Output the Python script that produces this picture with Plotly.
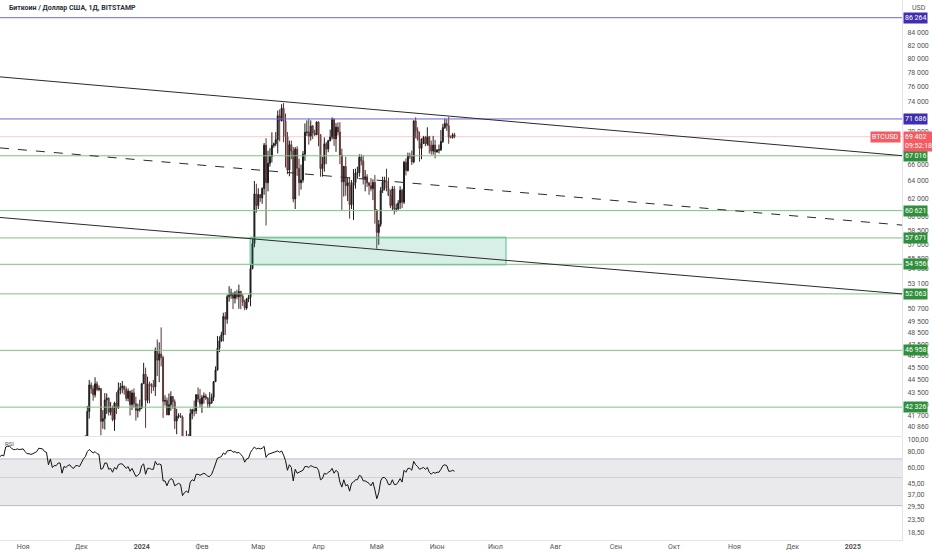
import math
import pandas as pd
import plotly.graph_objects as go

# ---------------- DATA ----------------
title_text = "Биткоин / Доллар США, 1Д, BITSTAMP"

candle_start = "2023-12-01"
candle_end = "2024-06-10"

opens = [
    # Dec 2023
    37720, 38690, 39460, 39970, 41990, 44080, 43770, 43290, 44170, 43720, 43790, 41240, 41450, 42890, 43020, 41930,
    42240, 41360, 42650, 42260, 43660, 43870, 43990, 43720, 43010, 43580, 42520, 43440, 42590, 42070, 42140,
    # Jan 2024
    42280, 44180, 44950, 42850, 44170, 44160, 43970, 43930, 46970, 46120, 46650, 46340, 42780, 42850, 41730, 42510,
    43150, 42740, 41260, 41620, 41670, 41570, 39530, 39880, 40080, 39950, 41820, 42120, 42030, 43300, 42950,
    # Feb 2024
    42580, 43080, 43200, 43010, 42580, 42660, 43090, 44340, 45300, 47140, 47770, 48290, 49960, 49700, 51800, 51940,
    52140, 51650, 52130, 51780, 52280, 51840, 51300, 50730, 51570, 51730, 54520, 57080, 62500,
    # Mar 2024
    61200, 62430, 62050, 63130, 68330, 63800, 66100, 66930, 68300, 68500, 69020, 72100, 71480, 73100, 71400, 69400,
    65300, 68390, 67600, 61930, 67840, 65500, 63800, 64100, 67200, 69960, 69990, 69450, 70760, 69880, 69640,
    # Apr 2024
    71300, 69650, 65460, 65990, 68500, 67840, 68900, 69350, 71640, 69150, 70620, 70000, 67100, 63900, 65720, 63440,
    63800, 61270, 63480, 63820, 64940, 64970, 66840, 66400, 64280, 64490, 63770, 63460, 63110, 63830,
    # May 2024
    60630, 58250, 59120, 62900, 63880, 64010, 63160, 62330, 61180, 63070, 60790, 60820, 61480, 62920, 61570, 66230,
    65240, 67050, 66940, 66270, 71430, 70140, 69120, 67930, 68520, 69290, 68510, 69390, 68300, 67590, 68350,
    # Jun 2024
    67490, 67710, 67760, 68800, 70560, 71080, 70790, 69350, 69300, 69650,
]
highs = [
    38970, 39700, 40200, 42420, 44490, 44300, 44050, 44700, 44370, 44040, 43800, 42100, 43430, 43400, 43090, 42720,
    42430, 42750, 43500, 44280, 44240, 44400, 44020, 43940, 43800, 43600, 43690, 43800, 43140, 42600, 42900,
    44200, 45900, 45500, 44750, 44350, 44200, 44480, 47200, 47900, 47650, 48970, 46500, 43250, 43080, 43400, 43570,
    43200, 42930, 42200, 41850, 41870, 41680, 40140, 40540, 40300, 42200, 42200, 42840, 43320, 43880, 43750,
    43270, 43480, 43380, 43120, 43500, 43380, 44400, 45600, 48200, 48170, 48580, 50300, 50370, 52000, 52800, 52560,
    52180, 52340, 52460, 52950, 52370, 52050, 51520, 51680, 51960, 54900, 57580, 64000, 63680,
    63150, 62450, 63250, 68600, 69200, 67650, 67970, 69950, 68650, 69980, 72800, 72950, 73650, 73800, 72400, 70000,
    68900, 68900, 68100, 68100, 68200, 66650, 65950, 67600, 71100, 71500, 71700, 71500, 70900, 70300, 71350,
    71350, 69700, 66900, 69300, 68720, 69000, 70300, 71900, 71740, 71150, 71250, 71250, 67900, 65800, 66900, 64350,
    64450, 64100, 65400, 65450, 65700, 67200, 67200, 67080, 65300, 64800, 63900, 64350, 64200, 64700,
    60800, 59600, 63300, 64500, 64500, 65450, 64400, 62990, 63400, 63420, 61400, 61800, 63400, 63100, 66400, 66700,
    67400, 67400, 67650, 71500, 71900, 70600, 70050, 69200, 69500, 69500, 70600, 69500, 68900, 69500, 69000,
    67850, 68400, 70250, 71050, 71750, 71650, 71950, 69550, 69850, 69900,
]
lows = [
    37620, 38650, 39290, 39970, 41450, 43380, 42820, 43080, 43580, 43580, 40200, 40680, 40630, 41800, 41680, 41690,
    41250, 40530, 41800, 42200, 43330, 43420, 43300, 42800, 42760, 41680, 42100, 42300, 41300, 41530, 41980,
    42180, 44160, 40750, 42630, 42620, 43400, 43600, 43200, 44800, 44300, 45600, 41500, 42450, 41720, 41710, 42050,
    42200, 40670, 40280, 41450, 41500, 39450, 38500, 39500, 39300, 39820, 41400, 41620, 41800, 42700, 42300,
    41880, 42600, 42890, 42250, 42270, 42580, 42800, 44330, 45250, 46800, 47700, 47730, 48300, 49300, 51330, 51600,
    50630, 51160, 51550, 50660, 50620, 50920, 50530, 50580, 51280, 50900, 54450, 56700, 60400,
    60800, 61600, 61380, 62400, 59000, 62800, 65700, 66200, 68000, 68200, 67300, 68800, 71350, 68700, 65600, 64800,
    64550, 66600, 61550, 60800, 64600, 62300, 63000, 63800, 66400, 69500, 68400, 68900, 69100, 69500, 69600,
    68200, 64500, 64500, 65100, 66000, 67450, 68800, 69050, 68250, 67500, 69550, 66000, 60700, 62200, 62300, 61700,
    59750, 60800, 59600, 63100, 64250, 64500, 65850, 63600, 62800, 63300, 62400, 62800, 61800, 59200,
    56550, 56950, 58850, 62600, 62900, 62800, 62300, 60900, 60650, 60200, 60500, 60650, 60800, 60900, 61350, 64650,
    65100, 66650, 65900, 66100, 69200, 68900, 66300, 66600, 68500, 68200, 68250, 67300, 67150, 67150, 66700,
    67400, 67300, 67600, 68600, 70400, 70150, 68500, 69200, 69150, 69200,
]
closes = [
    38690, 39460, 39970, 41990, 44080, 43770, 43290, 44170, 43720, 43790, 41240, 41450, 42890, 43020, 41930, 42240,
    41360, 42650, 42260, 43660, 43870, 43990, 43720, 43010, 43580, 42520, 43440, 42590, 42070, 42140, 42280,
    44180, 44950, 42850, 44170, 44160, 43970, 43930, 46970, 46120, 46650, 46340, 42780, 42850, 41730, 42510, 43150,
    42740, 41260, 41620, 41670, 41570, 39530, 39880, 40080, 39950, 41820, 42120, 42030, 43300, 42950, 42580,
    43080, 43200, 43010, 42580, 42660, 43090, 44340, 45300, 47140, 47770, 48290, 49960, 49700, 51800, 51940, 52140,
    51650, 52130, 51780, 52280, 51840, 51300, 50730, 51570, 51730, 54520, 57080, 62500, 61200,
    62430, 62050, 63130, 68330, 63800, 66100, 66930, 68300, 68500, 69020, 72100, 71480, 73100, 71400, 69400, 65300,
    68390, 67600, 61930, 67840, 65500, 63800, 64100, 67200, 69960, 69990, 69450, 70760, 69880, 69640, 71300,
    69650, 65460, 65990, 68500, 67840, 68900, 69350, 71640, 69150, 70620, 70000, 67100, 63900, 65720, 63440, 63800,
    61270, 63480, 63820, 64940, 64970, 66840, 66400, 64280, 64490, 63770, 63460, 63110, 63830, 60630,
    58250, 59120, 62900, 63880, 64010, 63160, 62330, 61180, 63070, 60790, 60820, 61480, 62920, 61570, 66230, 65240,
    67050, 66940, 66270, 71430, 70140, 69120, 67930, 68520, 69290, 68510, 69390, 68300, 67590, 68350, 67490,
    67710, 67760, 68800, 70560, 71080, 70790, 69350, 69300, 69650, 69402,
]

rsi_start = "2023-10-20"
rsi_values = [
    # Oct 20-31
    73, 75, 74, 87, 88, 88, 85, 83, 83, 84, 83, 83,
    # Nov
    84, 80, 77, 77, 76, 77, 79, 80, 85, 85, 84, 80, 79, 63, 70, 60, 62, 62, 65, 65, 54, 61, 60, 62, 63, 60, 59, 62, 62, 61,
    # Dec
    66, 70, 73, 80, 83, 81, 78, 80, 77, 76, 58, 59, 65, 65, 58, 59, 55, 60, 58, 63, 64, 64, 62, 59, 61, 56, 59, 55, 51, 52, 54,
    # Jan
    62, 64, 53, 59, 59, 58, 58, 67, 63, 64, 63, 47, 47, 43, 47, 49, 48, 43, 44, 45, 44, 36, 38, 39, 38, 46, 48, 47, 53, 53, 52,
    # Feb
    53, 54, 53, 51, 51, 53, 58, 65, 71, 72, 73, 78, 76, 81, 81, 82, 79, 80, 78, 79, 76, 73, 66, 70, 71, 79, 83, 87, 84,
    # Mar
    85, 84, 85, 88, 72, 76, 77, 78, 78, 79, 81, 79, 81, 75, 68, 57, 63, 60, 47, 58, 54, 55, 56, 57, 61, 61, 60, 62, 61, 60, 60,
    # Apr
    57, 48, 49, 54, 53, 55, 56, 59, 54, 57, 55, 46, 42, 48, 43, 44, 39, 45, 46, 48, 48, 52, 51, 47, 47, 46, 45, 43, 46, 40,
    # May
    34, 38, 47, 50, 50, 48, 44, 44, 48, 44, 44, 46, 49, 46, 57, 55, 59, 59, 57, 67, 63, 61, 58, 59, 60, 58, 60, 55, 53, 55, 54,
    # Jun 1-10
    55, 55, 58, 62, 63, 62, 56, 56, 57, 56,
]
rsi_band = [30, 70]
rsi_mid = 50

# horizontal levels drawn on the chart
purple_levels = [86264, 71686]
green_levels = [67016, 60621, 57671, 54956, 52063, 46958, 42326]
last_price = 69402
countdown = "09:52:18"

# trendlines (start price at left edge, end price at right edge)
trend_top = [77420, 67030]
trend_mid = [67990, 59040]
trend_low = [59870, 52063]

# demand zone
zone_dates = ["2024-02-25 19:00", "2024-07-06 12:00"]
zone_prices = [54900, 57750]

# visible window
x_range = ["2023-10-20 01:40", "2025-01-26 07:00"]
price_range = [40150, 89100]
rsi_range = [16.08, 104.26]

price_ticks = [84000, 82000, 80000, 78000, 76000, 74000, 70000, 68000, 66000, 64000, 62000, 60000, 58500,
               57000, 55500, 54500, 53100, 50700, 49500, 48500, 47500, 46500, 45500, 44500, 43500, 42500,
               41700, 40860]
rsi_ticks = [100, 80, 60, 45, 37, 29.5, 23.5, 18.5]

month_ticks = ["2023-11-01", "2023-12-01", "2024-01-01", "2024-02-01", "2024-03-01", "2024-04-01", "2024-05-01",
               "2024-06-01", "2024-07-01", "2024-08-01", "2024-09-01", "2024-10-01", "2024-11-01", "2024-12-01",
               "2025-01-01"]
month_labels = ["Ноя", "Дек", "<b>2024</b>", "Фев", "Мар", "Апр", "Май", "Июн", "Июл", "Авг", "Сен", "Окт",
                "Ноя", "Дек", "<b>2025</b>"]

# ---------------- STYLE ----------------
FONT = "Roboto"
PURPLE_LINE = "#6f63d9"
PURPLE_BOX = "#3f2fb0"
GREEN_LINE = "#7cc47f"
GREEN_BOX = "#2f8f3c"
RED_BOX = "#f25c62"
AXIS_COL = "#e3e5ea"


def fmt(v):
    return f"{v:,.0f}".replace(",", " ")


def fmt_rsi(v):
    return f"{v:.2f}".replace(".", ",")


candle_dates = pd.date_range(candle_start, candle_end, freq="D")
assert len(candle_dates) == len(opens) == len(highs) == len(lows) == len(closes)
rsi_dates = pd.date_range(rsi_start, periods=len(rsi_values), freq="D")
assert rsi_dates[-1] == pd.Timestamp(candle_end)

fig = go.Figure()

# demand zone
fig.add_trace(go.Scatter(
    x=[zone_dates[0], zone_dates[1], zone_dates[1], zone_dates[0], zone_dates[0]],
    y=[zone_prices[0], zone_prices[0], zone_prices[1], zone_prices[1], zone_prices[0]],
    fill="toself", fillcolor="rgba(38,166,130,0.18)", line=dict(color="rgba(38,166,130,0.75)", width=1),
    mode="lines", hoverinfo="skip", xaxis="x", yaxis="y"))

# horizontal levels
for v in purple_levels:
    fig.add_trace(go.Scatter(x=x_range, y=[v, v], mode="lines", line=dict(color=PURPLE_LINE, width=1),
                             hoverinfo="skip", xaxis="x", yaxis="y"))
for v in green_levels:
    fig.add_trace(go.Scatter(x=x_range, y=[v, v], mode="lines", line=dict(color=GREEN_LINE, width=1),
                             hoverinfo="skip", xaxis="x", yaxis="y"))
fig.add_trace(go.Scatter(x=x_range, y=[last_price, last_price], mode="lines",
                         line=dict(color="rgba(242,54,69,0.25)", width=1), hoverinfo="skip",
                         xaxis="x", yaxis="y"))

# trendlines
fig.add_trace(go.Scatter(x=x_range, y=trend_top, mode="lines", line=dict(color="#2a2a2a", width=1),
                         hoverinfo="skip", xaxis="x", yaxis="y"))
fig.add_trace(go.Scatter(x=x_range, y=trend_mid, mode="lines", line=dict(color="#2a2a2a", width=1, dash="dash"),
                         hoverinfo="skip", xaxis="x", yaxis="y"))
fig.add_trace(go.Scatter(x=x_range, y=trend_low, mode="lines", line=dict(color="#2a2a2a", width=1),
                         hoverinfo="skip", xaxis="x", yaxis="y"))

# candles
fig.add_trace(go.Candlestick(
    x=candle_dates, open=opens, high=highs, low=lows, close=closes,
    increasing=dict(line=dict(color="#1c1c1c", width=1), fillcolor="#1c1c1c"),
    decreasing=dict(line=dict(color="#5a3434", width=1), fillcolor="#c8706e"),
    whiskerwidth=0, xaxis="x", yaxis="y", hoverinfo="skip"))

# RSI band and lines
fig.add_trace(go.Scatter(
    x=[x_range[0], x_range[1], x_range[1], x_range[0], x_range[0]],
    y=[rsi_band[0], rsi_band[0], rsi_band[1], rsi_band[1], rsi_band[0]],
    fill="toself", fillcolor="rgba(200,201,208,0.38)", line=dict(width=0), mode="lines",
    hoverinfo="skip", xaxis="x", yaxis="y2"))
for v, c in [(rsi_band[1], "#b9bbc2"), (rsi_mid, "#cfd1d6"), (rsi_band[0], "#b9bbc2")]:
    fig.add_trace(go.Scatter(x=x_range, y=[v, v], mode="lines", line=dict(color=c, width=1),
                             hoverinfo="skip", xaxis="x", yaxis="y2"))
fig.add_trace(go.Scatter(x=rsi_dates, y=rsi_values, mode="lines", line=dict(color="#111111", width=1),
                         hoverinfo="skip", xaxis="x", yaxis="y2"))

# ---------------- LAYOUT ----------------
W, H = 932, 550
ML, MR, MT, MB = 0, 30, 0, 10
plot_h = H - MT - MB
price_bottom_px = 436
rsi_top_px = 437
price_domain = [1 - price_bottom_px / plot_h, 1]
rsi_domain = [0, 1 - rsi_top_px / plot_h]

annotations = []


def level_label(v, bg, yref="y"):
    annotations.append(dict(
        xref="paper", x=1, xanchor="left", xshift=1, yref=yref, y=math.log10(v), yanchor="middle",
        text=fmt(v), showarrow=False, bgcolor=bg, borderpad=1,
        font=dict(family=FONT, size=7, color="white")))


for v in purple_levels:
    level_label(v, PURPLE_BOX)
for v in green_levels:
    level_label(v, GREEN_BOX)

# current price labels
annotations.append(dict(xref="paper", x=1, xanchor="right", xshift=-1, yref="y", y=math.log10(last_price),
                        yanchor="middle", text="BTCUSD", showarrow=False, bgcolor=RED_BOX, borderpad=1,
                        font=dict(family=FONT, size=7, color="white")))
annotations.append(dict(xref="paper", x=1, xanchor="left", xshift=1, yref="y", y=math.log10(last_price),
                        yanchor="top", yshift=6, text=f"{fmt(last_price)}<br>{countdown}", showarrow=False,
                        bgcolor=RED_BOX, borderpad=1, align="left",
                        font=dict(family=FONT, size=7, color="white")))

# title, currency, indicator name
annotations.append(dict(xref="paper", x=0, xanchor="left", xshift=7, yref="paper", y=1, yanchor="top", yshift=-2,
                        text="<b>" + title_text + "</b>", showarrow=False,
                        font=dict(family=FONT, size=7, color="#2a2e39")))
annotations.append(dict(xref="paper", x=1, xanchor="left", xshift=8, yref="paper", y=1, yanchor="top", yshift=-2,
                        text="USD", showarrow=False, font=dict(family=FONT, size=7, color="#555")))
annotations.append(dict(xref="paper", x=0, xanchor="left", xshift=3, yref="paper", y=rsi_domain[1],
                        yanchor="top", yshift=-1, text="RSI", showarrow=False,
                        font=dict(family=FONT, size=6, color="#555")))

fig.update_layout(
    width=W, height=H, margin=dict(l=ML, r=MR, t=MT, b=MB, pad=0, autoexpand=False),
    paper_bgcolor="white", plot_bgcolor="white", showlegend=False,
    font=dict(family=FONT, size=7, color="#555"),
    xaxis=dict(type="date", range=x_range, anchor="y2", showgrid=False, zeroline=False,
               rangeslider=dict(visible=False), tickvals=month_ticks, ticktext=month_labels,
               ticks="", tickfont=dict(family=FONT, size=7, color="#555"), automargin=False,
               showline=True, linecolor=AXIS_COL, linewidth=1),
    yaxis=dict(type="log", domain=price_domain, range=[math.log10(price_range[0]), math.log10(price_range[1])],
               side="right", showgrid=False, zeroline=False, tickvals=price_ticks,
               ticktext=[fmt(v) for v in price_ticks], ticks="", ticklabelstandoff=3, automargin=False,
               tickfont=dict(family=FONT, size=7, color="#555"),
               showline=True, linecolor=AXIS_COL, linewidth=1, anchor="x"),
    yaxis2=dict(type="log", domain=rsi_domain, range=[math.log10(rsi_range[0]), math.log10(rsi_range[1])],
                side="right", showgrid=False, zeroline=False, tickvals=rsi_ticks,
                ticktext=[fmt_rsi(v) for v in rsi_ticks], ticks="", ticklabelstandoff=3, automargin=False,
                tickfont=dict(family=FONT, size=7, color="#555"),
                showline=True, linecolor=AXIS_COL, linewidth=1, anchor="x"),
    annotations=annotations,
    shapes=[dict(type="line", xref="paper", x0=0, x1=1, yref="paper",
                 y0=(price_domain[0] + rsi_domain[1]) / 2, y1=(price_domain[0] + rsi_domain[1]) / 2,
                 line=dict(color=AXIS_COL, width=1))],
)

fig.write_html("out.html", config={"displayModeBar": False},
               post_script="document.body.style.margin='0px';document.body.style.overflow='hidden';")
